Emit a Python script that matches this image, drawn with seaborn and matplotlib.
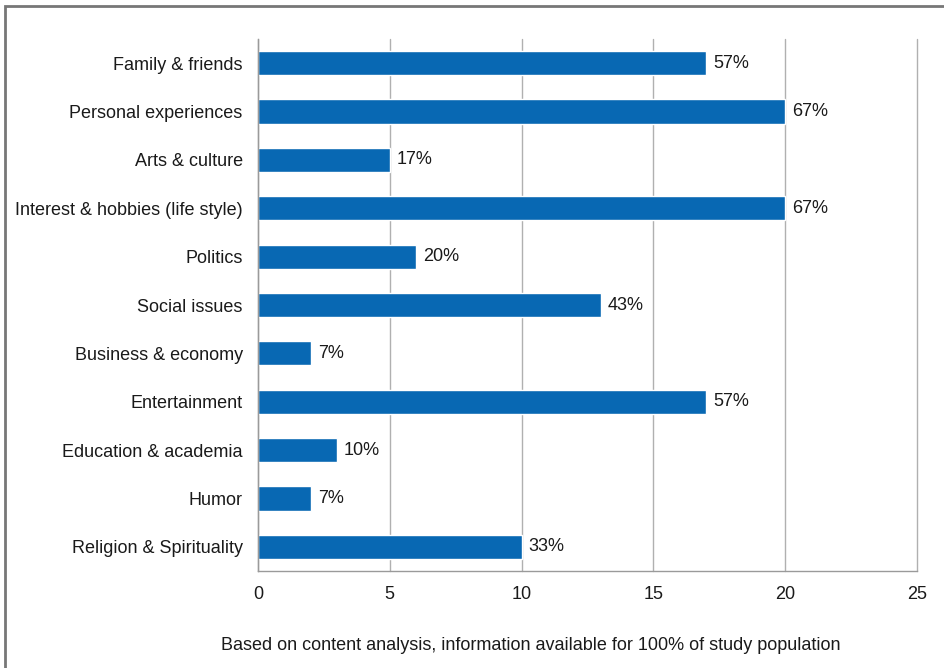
import matplotlib
matplotlib.use("Agg")
import matplotlib.pyplot as plt
from matplotlib.patches import Rectangle
import seaborn as sns
import pandas as pd

# Chart data
categories = ["Family & friends", "Personal experiences", "Arts & culture",
              "Interest & hobbies (life style)", "Politics", "Social issues",
              "Business & economy", "Entertainment", "Education & academia",
              "Humor", "Religion & Spirituality"]
counts = [17, 20, 5, 20, 6, 13, 2, 17, 3, 2, 10]
pct_labels = ["57%", "67%", "17%", "67%", "20%", "43%", "7%", "57%", "10%", "7%", "33%"]
x_ticks = [0, 5, 10, 15, 20, 25]

df = pd.DataFrame({"category": categories, "count": counts})

sns.set_style("white")
plt.rcParams['font.family'] = ['Liberation Sans', 'DejaVu Sans']

fig = plt.figure(figsize=(9.45, 6.68), dpi=100)
ax = fig.add_axes([258/945, 1 - 571/668, (917 - 258)/945, (571 - 39)/668])

sns.barplot(data=df, y="category", x="count", color="#0868B3", width=0.5,
            saturation=1, ax=ax, orient="h")

ax.set_xlim(0, 25)
ax.set_ylim(len(categories) - 0.5, -0.5)
ax.set_xticks(x_ticks)
ax.set_xticklabels([str(t) for t in x_ticks], fontsize=13, color="#1a1a1a")
ax.tick_params(axis="x", length=5, color="#9a9a9a", pad=6)
ax.tick_params(axis="y", which="major", length=0, labelsize=13, pad=11,
               labelcolor="#1a1a1a")
ax.set_yticks([i + 0.5 for i in range(-1, len(categories))], minor=True)
ax.tick_params(axis="y", which="minor", length=5, color="#9a9a9a")
ax.set_xlabel("")
ax.set_ylabel("")

ax.grid(axis="x", color="#b0b0b0", linewidth=1)
for gl in ax.get_xgridlines():
    gl.set_clip_on(False)
ax.set_axisbelow(True)
for side in ["top", "right"]:
    ax.spines[side].set_visible(False)
for side in ["left", "bottom"]:
    ax.spines[side].set_color("#9a9a9a")
    ax.spines[side].set_linewidth(1)

for i, (v, lab) in enumerate(zip(counts, pct_labels)):
    ax.annotate(lab, (v, i), xytext=(5, 0), textcoords="offset points",
                va="center", ha="left", fontsize=13, color="#1a1a1a")

fig.text(531/945, 1 - 646/668, "Based on content analysis, information available for 100% of study population",
         ha="center", va="center", fontsize=13, color="#1a1a1a")

# outer frame (cropped on the right and bottom)
fig.patches.append(Rectangle((5.5/945, -0.1), 1.2, 1 - 5.5/668 + 0.1,
                             transform=fig.transFigure, fill=False,
                             edgecolor="#777777", linewidth=2))

fig.savefig("out.png", dpi=100)
